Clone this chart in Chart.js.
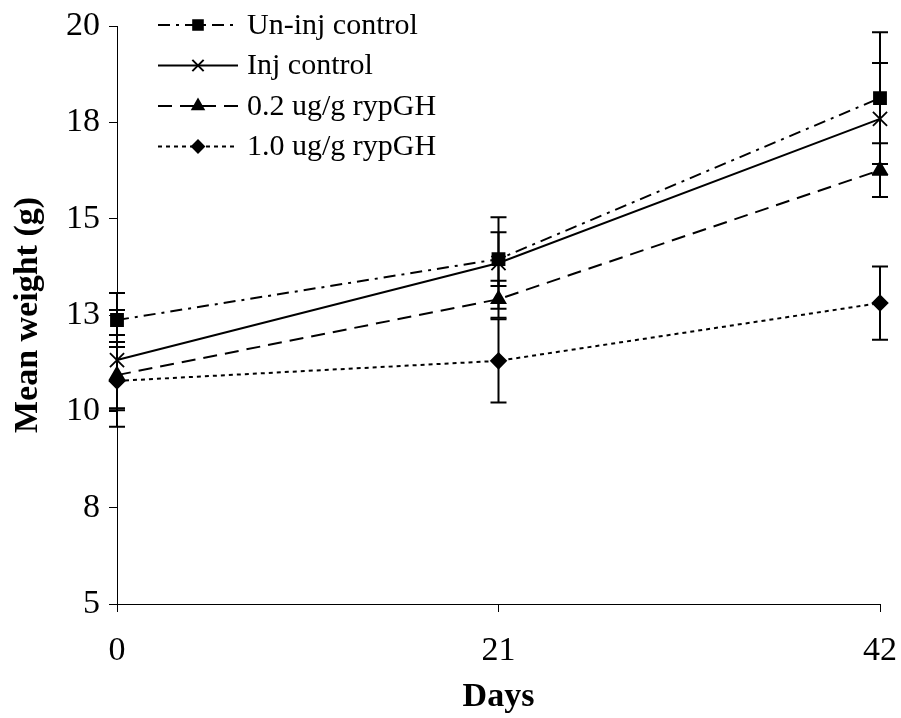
<!DOCTYPE html>
<html>
<head>
<meta charset="utf-8">
<script src="https://cdn.jsdelivr.net/npm/chart.js@4.4.1/dist/chart.umd.min.js"></script>
<style>
  html, body { margin: 0; padding: 0; background: #fff; }
</style>
</head>
<body>
<canvas id="weightChart" width="901" height="718"></canvas>
<script>
// Data
const days = [0, 21, 42];
const seriesNames = ['Un-inj control', 'Inj control', '0.2 ug/g rypGH', '1.0 ug/g rypGH'];
const unInjMean = [12.37, 13.95, 18.13];
const unInjErr = [0.70, 0.70, 1.71];
const injMean = [11.33, 13.85, 17.59];
const injErr = [1.30, 1.19, 1.45];
const lowDoseMean = [10.94, 12.91, 16.26];
const lowDoseErr = [0.86, 0.48, 0.70];
const highDoseMean = [10.79, 11.31, 12.81];
const highDoseErr = [1.19, 1.08, 0.95];
const yTicks = [5, 7.5, 10, 12.5, 15, 17.5, 20];

const serif = "'Liberation Serif', 'Times New Roman', serif";

function points(means) {
  return days.map((d, i) => ({ x: d, y: means[i] }));
}

// Error bars drawn via the chart's scales
const errorBars = {
  id: 'errorBars',
  beforeDatasetsDraw(chart) {
    const ctx = chart.ctx;
    const xs = chart.scales.x, ys = chart.scales.y;
    ctx.save();
    ctx.strokeStyle = '#000';
    ctx.lineWidth = 2;
    chart.data.datasets.forEach(ds => {
      ds.data.forEach((p, i) => {
        const px = xs.getPixelForValue(p.x);
        const top = ys.getPixelForValue(p.y + ds.errors[i]);
        const bot = ys.getPixelForValue(p.y - ds.errors[i]);
        ctx.beginPath();
        ctx.moveTo(px, top); ctx.lineTo(px, bot);
        ctx.moveTo(px - 8, top); ctx.lineTo(px + 8, top);
        ctx.moveTo(px - 8, bot); ctx.lineTo(px + 8, bot);
        ctx.stroke();
      });
    });
    ctx.restore();
  }
};

// Legend inside the plot, line sample with marker in the middle
const insideLegend = {
  id: 'insideLegend',
  afterDraw(chart) {
    const ctx = chart.ctx;
    ctx.save();
    chart.data.datasets.forEach((ds, i) => {
      const y = 25 + i * 40.5;
      ctx.strokeStyle = '#000';
      ctx.lineWidth = ds.borderWidth;
      ctx.setLineDash(ds.borderDash || []);
      ctx.beginPath();
      ctx.moveTo(158, y);
      ctx.lineTo(238, y);
      ctx.stroke();
      ctx.setLineDash([]);
      Chart.helpers.drawPoint(ctx, {
        pointStyle: ds.pointStyle,
        radius: ds.pointRadius * 0.8,
        borderWidth: ds.pointBorderWidth,
        rotation: 0
      }, 198, y);
      ctx.fillStyle = '#000';
      ctx.strokeStyle = '#000';
      ctx.font = '30px ' + serif;
      ctx.textBaseline = 'middle';
      ctx.textAlign = 'left';
      ctx.fillText(ds.label, 247, y + 1);
    });
    ctx.restore();
  }
};

function line(label, means, errs, dash, style, radius) {
  return {
    label: label,
    data: points(means),
    errors: errs,
    borderColor: '#000',
    backgroundColor: '#000',
    borderWidth: 2,
    borderDash: dash,
    pointStyle: style,
    pointRadius: radius,
    pointHoverRadius: radius,
    pointBorderWidth: 1.8,
    pointBackgroundColor: '#000',
    pointBorderColor: '#000',
    tension: 0,
    clip: false
  };
}

const ctx = document.getElementById('weightChart').getContext('2d');
const chart = new Chart(ctx, {
  type: 'line',
  data: {
    datasets: [
      line(seriesNames[0], unInjMean, unInjErr, [12, 6, 3, 6], 'rect', 8.5),
      line(seriesNames[1], injMean, injErr, [], 'crossRot', 10),
      line(seriesNames[2], lowDoseMean, lowDoseErr, [14, 8], 'triangle', 8),
      line(seriesNames[3], highDoseMean, highDoseErr, [4, 4], 'rectRot', 7.5)
    ]
  },
  options: {
    responsive: false,
    animation: false,
    layout: { autoPadding: false, padding: { left: 0, right: 21, top: 26, bottom: 0 } },
    plugins: {
      legend: { display: false },
      tooltip: { enabled: false }
    },
    scales: {
      x: {
        type: 'linear',
        min: 0,
        max: 42,
        afterBuildTicks: s => { s.ticks = days.map(v => ({ value: v })); },
        afterFit: s => { s.height = 114; s.paddingLeft = 0; s.paddingRight = 0; },
        grid: { drawOnChartArea: false, tickLength: 8, color: '#000' },
        border: { color: '#000', width: 1 },
        ticks: { color: '#000', font: { family: serif, size: 34 }, padding: 19, maxRotation: 0 },
        title: {
          display: true, text: 'Days', color: '#000',
          font: { family: serif, size: 34, weight: 'bold' },
          padding: { top: 0, bottom: 0 }
        }
      },
      y: {
        min: 5,
        max: 20,
        afterBuildTicks: s => { s.ticks = yTicks.map(v => ({ value: v })); },
        afterFit: s => { s.width = 117; s.paddingTop = 0; s.paddingBottom = 0; },
        grid: { drawOnChartArea: false, tickLength: 8, color: '#000' },
        border: { color: '#000', width: 1 },
        ticks: {
          color: '#000', font: { family: serif, size: 34 }, padding: 9,
          callback: v => Math.round(v)
        },
        title: {
          display: true, text: 'Mean weight (g)', color: '#000',
          font: { family: serif, size: 34, weight: 'bold' },
          padding: { top: 8, bottom: 0 }
        }
      }
    }
  },
  plugins: [errorBars, insideLegend]
});
</script>
</body>
</html>
